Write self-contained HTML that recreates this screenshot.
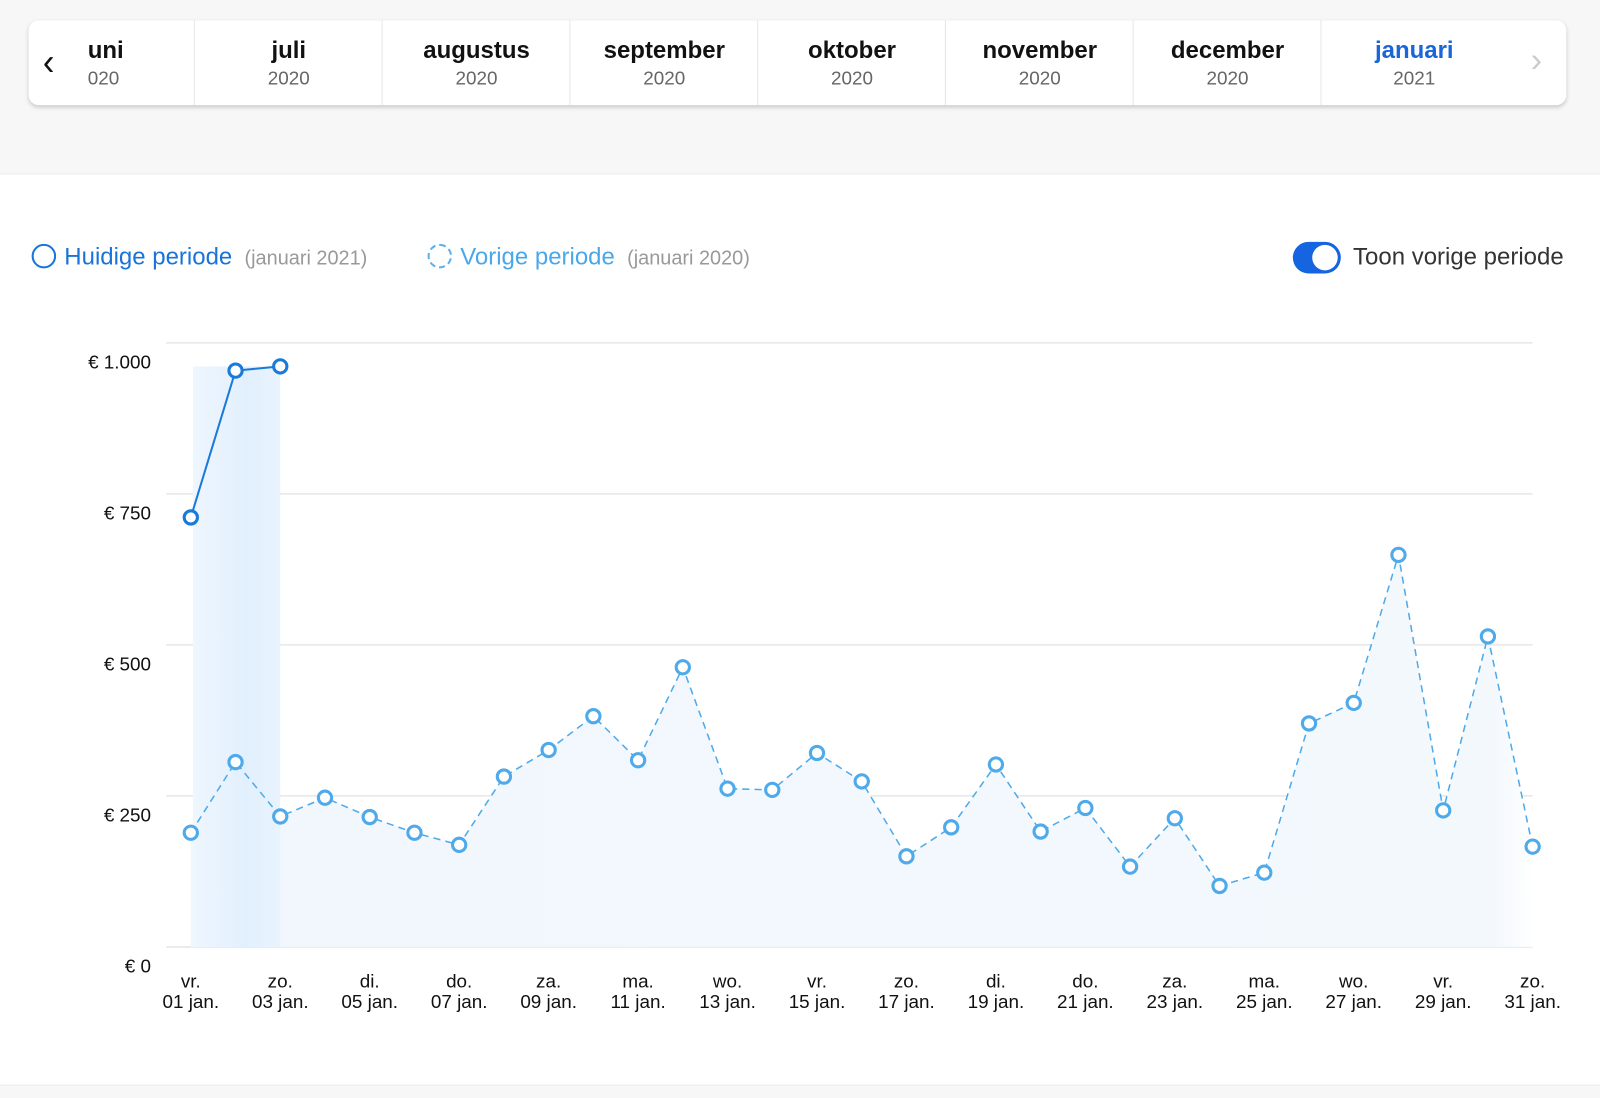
<!DOCTYPE html>
<html><head><meta charset="utf-8"><style>
html,body{margin:0;padding:0;width:1600px;height:1097px;overflow:hidden;background:#fff;font-family:"Liberation Sans",sans-serif}
#wrap{position:absolute;left:0;top:0;width:1568px;height:1075px;transform:scale(1.0204);transform-origin:0 0}
#top{position:absolute;left:0;top:0;width:1568px;height:170px;background:#f7f7f7;border-bottom:1px solid #ececec}
#card{position:absolute;left:28px;top:20px;width:1507px;height:83px;background:#fff;border-radius:10px;box-shadow:0 2px 4px rgba(0,0,0,.18);overflow:hidden}
.m{position:absolute;top:0;height:83px;border-left:1px solid #e6e6e6;text-align:center}
.m b{display:block;font-size:23.5px;color:#111;margin-top:16px}
.m span{display:block;font-size:18.5px;color:#666;margin-top:3px}
#bottom{position:absolute;left:0;top:1063px;width:1568px;height:12px;background:#f7f7f7;border-top:1px solid #ececec}
.leg{position:absolute;top:238px;font-size:23.5px}
.sub{font-size:19.5px;color:#999;margin-left:12px}
</style></head><body>
<div id="wrap">
<div id="top">
<div id="card">
 <div style="position:absolute;left:14px;top:22px;font-size:34px;color:#111;transform:scaleY(1.1)">&#8249;</div>
 <div class="m" style="left:40px;width:122px;border-left:none;text-align:left"><b style="margin-left:18px">uni</b><span style="margin-left:18px">020</span></div>
 <div class="m" style="left:162px;width:184px"><b>juli</b><span>2020</span></div>
 <div class="m" style="left:346px;width:184px"><b>augustus</b><span>2020</span></div>
 <div class="m" style="left:530px;width:184px"><b>september</b><span>2020</span></div>
 <div class="m" style="left:714px;width:184px"><b>oktober</b><span>2020</span></div>
 <div class="m" style="left:898px;width:184px"><b>november</b><span>2020</span></div>
 <div class="m" style="left:1082px;width:184px"><b>december</b><span>2020</span></div>
 <div class="m" style="left:1266px;width:182px"><b style="color:#1a66d9">januari</b><span>2021</span></div>
 <div style="position:absolute;left:1472px;top:20px;font-size:34px;color:#ccc">&#8250;</div>
</div></div>
<div class="leg" style="left:31px"><span style="display:inline-block;width:20px;height:20px;border:2px solid #1a73d9;border-radius:50%;vertical-align:-4px;margin-right:8px"></span><span style="color:#1a73d9">Huidige periode</span><span class="sub">(januari 2021)</span></div>
<div class="leg" style="left:419px"><span style="display:inline-block;width:20px;height:20px;border:2px dashed #5ab0ec;border-radius:50%;vertical-align:-4px;margin-right:8px"></span><span style="color:#4aa8ea">Vorige periode</span><span class="sub">(januari 2020)</span></div>
<div style="position:absolute;left:1267px;top:237px;width:47px;height:31px;background:#1565e0;border-radius:16px"><div style="position:absolute;right:3px;top:3px;width:25px;height:25px;background:#fff;border-radius:50%"></div></div>
<div style="position:absolute;left:1326px;top:238px;font-size:23.5px;color:#333">Toon vorige periode</div>
<svg id="chart" style="position:absolute;left:0;top:300px" width="1568" height="720" viewBox="0 300 1568 720"></svg>
<div id="bottom"></div>
</div>
<script>
const days=["vr.","za.","zo.","ma.","di.","wo.","do."];
const yTicks=[0,250,500,750,1000];
const yTickLabels=["€ 0","€ 250","€ 500","€ 750","€ 1.000"];
const current=[711,954,961];
const previous=[189,306,216,247,215,189,169,282,326,382,309,463,262,260,321,274,150,198,302,191,230,133,213,101,123,370,404,649,226,514,166];
const NS="http://www.w3.org/2000/svg";
const svg=document.getElementById('chart');
const X=i=>187+i*(1315/30);
const Y=v=>928-v*148/250;
function mk(t,a){const e=document.createElementNS(NS,t);for(const k in a)e.setAttribute(k,a[k]);svg.appendChild(e);return e;}
const defs=mk('defs',{});
defs.innerHTML='<linearGradient id="hl" x1="0" x2="1"><stop offset="0" stop-color="#eef6fe"/><stop offset="0.6" stop-color="#e2f0fd"/><stop offset="1" stop-color="#e8f3fd"/></linearGradient><linearGradient id="ar" x1="0" x2="1"><stop offset="0" stop-color="#f1f7fd"/><stop offset="0.97" stop-color="#f3f8fd"/><stop offset="1" stop-color="#fff"/></linearGradient>';
yTicks.forEach((t,i)=>{
 const g=mk('line',{x1:163,x2:1502,y1:Y(t),y2:Y(t),stroke:'#e6e6e6','stroke-width':1.5});
 
 const l=mk('text',{x:148,y:Y(t)+25,'text-anchor':'end','font-size':18.5,fill:'#111'});l.textContent=yTickLabels[i];
 
});
let d='M'+X(0)+','+Y(0);previous.forEach((v,i)=>d+=' L'+X(i)+','+Y(v));d+=' L'+X(previous.length-1)+','+Y(0)+'Z';
const ar=mk('path',{d:d,fill:'url(#ar)'});
const hb=mk('rect',{x:X(0)+2,y:Y(current[current.length-1]),width:X(current.length-1)-X(0)-2,height:Y(0)-Y(current[current.length-1]),fill:'url(#hl)'});

const pl=mk('polyline',{points:previous.map((v,i)=>X(i)+','+Y(v)).join(' '),fill:'none',stroke:'#4eaaea','stroke-width':1.5,'stroke-dasharray':'7,5'});

previous.forEach((v,i)=>{const c=mk('circle',{cx:X(i),cy:Y(v),r:6.5,fill:'#fff',stroke:'#4eaaea','stroke-width':3});
 });
const cl=mk('polyline',{points:current.map((v,i)=>X(i)+','+Y(v)).join(' '),fill:'none',stroke:'#1a7ad9','stroke-width':2});

current.forEach((v,i)=>{const c=mk('circle',{cx:X(i),cy:Y(v),r:6.5,fill:'#fff',stroke:'#1a7ad9','stroke-width':3});
 });
for(let i=0;i<31;i+=2){
 const t=mk('text',{x:X(i),y:968,'text-anchor':'middle','font-size':18.5,fill:'#111'});
 
 const a=document.createElementNS(NS,'tspan');a.setAttribute('x',X(i));a.textContent=days[i%7];t.appendChild(a);
 const b=document.createElementNS(NS,'tspan');b.setAttribute('x',X(i));b.setAttribute('dy',20);b.textContent=String(i+1).padStart(2,'0')+' jan.';t.appendChild(b);
}
</script>
</body></html>
